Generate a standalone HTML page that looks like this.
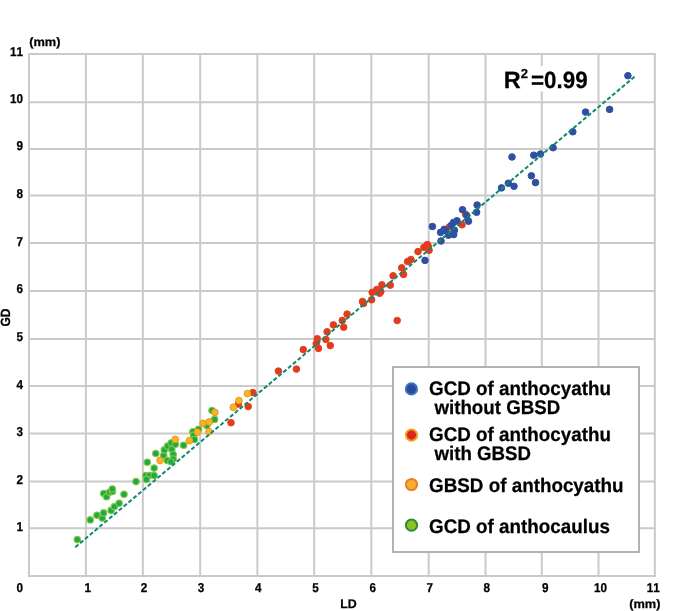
<!DOCTYPE html>
<html><head><meta charset="utf-8"><title>GD vs LD</title><style>html,body{margin:0;padding:0;background:#fff;width:685px;height:611px;overflow:hidden}svg{display:block;will-change:transform}.t text{font-family:"Liberation Sans",sans-serif;font-weight:bold;fill:#000;stroke:#000;stroke-width:0.25px;font-kerning:none;letter-spacing:0;text-rendering:geometricPrecision}</style></head><body>
<svg width="685" height="611" viewBox="0 0 685 611">
<rect x="0" y="0" width="685" height="611" fill="#fff"/>
<g stroke="#cacaca" stroke-width="2" fill="none">
<line x1="85.9" y1="54.0" x2="85.9" y2="576.0"/><line x1="142.85" y1="54.0" x2="142.85" y2="576.0"/><line x1="200.2" y1="54.0" x2="200.2" y2="576.0"/><line x1="257.4" y1="54.0" x2="257.4" y2="576.0"/><line x1="314.2" y1="54.0" x2="314.2" y2="576.0"/><line x1="371.3" y1="54.0" x2="371.3" y2="576.0"/><line x1="428.7" y1="54.0" x2="428.7" y2="576.0"/><line x1="485.5" y1="54.0" x2="485.5" y2="576.0"/><line x1="541.75" y1="54.0" x2="541.75" y2="576.0"/><line x1="598.5" y1="54.0" x2="598.5" y2="576.0"/><line x1="29.0" y1="528.2" x2="654.85" y2="528.2"/><line x1="29.0" y1="481.4" x2="654.85" y2="481.4"/><line x1="29.0" y1="433.5" x2="654.85" y2="433.5"/><line x1="29.0" y1="385.9" x2="654.85" y2="385.9"/><line x1="29.0" y1="339.05" x2="654.85" y2="339.05"/><line x1="29.0" y1="291.05" x2="654.85" y2="291.05"/><line x1="29.0" y1="242.9" x2="654.85" y2="242.9"/><line x1="29.0" y1="195.55" x2="654.85" y2="195.55"/><line x1="29.0" y1="149.05" x2="654.85" y2="149.05"/><line x1="29.0" y1="102.2" x2="654.85" y2="102.2"/>
<rect x="29.0" y="54.0" width="625.85" height="522.00"/>
</g>
<rect x="500" y="66" width="92" height="25.4" fill="#fff"/>
<g fill="#1aab4b" stroke="#8dc63f" stroke-width="1.15"><circle cx="77.3" cy="539.6" r="3.22"/><circle cx="90.2" cy="519.9" r="3.22"/><circle cx="97.0" cy="515.2" r="3.22"/><circle cx="102.3" cy="518.1" r="3.22"/><circle cx="103.6" cy="512.9" r="3.22"/><circle cx="111.1" cy="510.4" r="3.22"/><circle cx="114.4" cy="506.6" r="3.22"/><circle cx="119.1" cy="503.3" r="3.22"/><circle cx="103.7" cy="493.5" r="3.22"/><circle cx="106.6" cy="496.8" r="3.22"/><circle cx="109.5" cy="492.3" r="3.22"/><circle cx="112.5" cy="491.5" r="3.22"/><circle cx="112.3" cy="489.0" r="3.22"/><circle cx="124.0" cy="494.3" r="3.22"/><circle cx="136.0" cy="481.6" r="3.22"/><circle cx="145.9" cy="475.5" r="3.22"/><circle cx="149.5" cy="475.5" r="3.22"/><circle cx="154.1" cy="475.5" r="3.22"/><circle cx="146.4" cy="479.5" r="3.22"/><circle cx="154.1" cy="468.1" r="3.22"/><circle cx="147.3" cy="462.2" r="3.22"/><circle cx="155.8" cy="453.5" r="3.22"/><circle cx="163.7" cy="455.4" r="3.22"/><circle cx="164.3" cy="449.9" r="3.22"/><circle cx="167.6" cy="446.0" r="3.22"/><circle cx="171.2" cy="443.0" r="3.22"/><circle cx="171.8" cy="449.5" r="3.22"/><circle cx="173.2" cy="454.5" r="3.22"/><circle cx="167.3" cy="460.4" r="3.22"/><circle cx="173.2" cy="459.0" r="3.22"/><circle cx="170.9" cy="461.7" r="3.22"/><circle cx="175.4" cy="444.3" r="3.22"/><circle cx="183.6" cy="445.3" r="3.22"/><circle cx="192.9" cy="431.7" r="3.22"/><circle cx="193.7" cy="435.4" r="3.22"/><circle cx="194.5" cy="439.5" r="3.22"/><circle cx="198.6" cy="429.2" r="3.22"/><circle cx="206.8" cy="425.5" r="3.22"/><circle cx="212.0" cy="410.5" r="3.22"/><circle cx="214.6" cy="419.4" r="3.22"/></g>
<g fill="#e23b1f" stroke="#e3401f" stroke-width="1.0"><circle cx="231.0" cy="422.7" r="3.3"/><circle cx="238.4" cy="404.1" r="3.3"/><circle cx="248.2" cy="406.5" r="3.3"/><circle cx="252.9" cy="392.6" r="3.3"/><circle cx="278.4" cy="371.1" r="3.3"/><circle cx="296.4" cy="369.1" r="3.3"/><circle cx="303.3" cy="349.6" r="3.3"/><circle cx="317.3" cy="338.7" r="3.3"/><circle cx="316.2" cy="343.8" r="3.3"/><circle cx="318.5" cy="348.4" r="3.3"/><circle cx="325.9" cy="339.5" r="3.3"/><circle cx="327.1" cy="331.8" r="3.3"/><circle cx="330.3" cy="345.6" r="3.3"/><circle cx="333.4" cy="324.9" r="3.3"/><circle cx="342.3" cy="320.4" r="3.3"/><circle cx="343.7" cy="327.2" r="3.3"/><circle cx="347.1" cy="314.1" r="3.3"/><circle cx="362.5" cy="301.5" r="3.3"/><circle cx="363.5" cy="303.5" r="3.3"/><circle cx="371.6" cy="299.8" r="3.3"/><circle cx="372.2" cy="292.4" r="3.3"/><circle cx="376.8" cy="289.5" r="3.3"/><circle cx="379.6" cy="293.3" r="3.3"/><circle cx="380.8" cy="291.8" r="3.3"/><circle cx="381.9" cy="284.9" r="3.3"/><circle cx="390.3" cy="285.2" r="3.3"/><circle cx="393.1" cy="275.8" r="3.3"/><circle cx="397.2" cy="320.5" r="3.3"/><circle cx="401.7" cy="267.8" r="3.3"/><circle cx="403.5" cy="274.4" r="3.3"/><circle cx="407.6" cy="261.5" r="3.3"/><circle cx="411.0" cy="259.5" r="3.3"/><circle cx="418.0" cy="251.6" r="3.3"/><circle cx="423.9" cy="247.4" r="3.3"/><circle cx="427.3" cy="244.5" r="3.3"/><circle cx="428.5" cy="246.8" r="3.3"/><circle cx="429.1" cy="250.3" r="3.3"/><circle cx="449.2" cy="227.0" r="3.3"/><circle cx="462.0" cy="224.8" r="3.3"/><circle cx="465.6" cy="214.3" r="3.3"/></g>
<g fill="#f4b91c" stroke="#ee8a24" stroke-width="0.9"><circle cx="160.1" cy="460.4" r="3.35"/><circle cx="175.2" cy="439.4" r="3.35"/><circle cx="189.4" cy="440.7" r="3.35"/><circle cx="197.4" cy="432.1" r="3.35"/><circle cx="203.1" cy="423.3" r="3.35"/><circle cx="209.3" cy="421.9" r="3.35"/><circle cx="209.0" cy="431.6" r="3.35"/><circle cx="214.9" cy="412.4" r="3.35"/><circle cx="233.3" cy="407.3" r="3.35"/><circle cx="238.9" cy="400.6" r="3.35"/><circle cx="247.4" cy="393.6" r="3.35"/></g>
<g fill="#2f4fa0" stroke="#3350a2" stroke-width="1.0"><circle cx="425.0" cy="260.4" r="3.3"/><circle cx="445.5" cy="230.6" r="3.3"/><circle cx="451.4" cy="225.3" r="3.3"/><circle cx="432.4" cy="226.5" r="3.3"/><circle cx="441.0" cy="241.0" r="3.3"/><circle cx="440.6" cy="232.4" r="3.3"/><circle cx="444.2" cy="229.3" r="3.3"/><circle cx="448.4" cy="235.2" r="3.3"/><circle cx="453.7" cy="234.6" r="3.3"/><circle cx="454.4" cy="230.3" r="3.3"/><circle cx="453.5" cy="222.5" r="3.3"/><circle cx="457.0" cy="220.8" r="3.3"/><circle cx="462.5" cy="209.7" r="3.3"/><circle cx="466.8" cy="215.6" r="3.3"/><circle cx="468.5" cy="221.2" r="3.3"/><circle cx="476.6" cy="212.3" r="3.3"/><circle cx="477.1" cy="205.0" r="3.3"/><circle cx="501.5" cy="187.9" r="3.3"/><circle cx="508.3" cy="183.2" r="3.3"/><circle cx="514.0" cy="186.3" r="3.3"/><circle cx="512.0" cy="157.0" r="3.3"/><circle cx="533.8" cy="155.2" r="3.3"/><circle cx="540.5" cy="154.0" r="3.3"/><circle cx="553.1" cy="147.7" r="3.3"/><circle cx="531.4" cy="175.8" r="3.3"/><circle cx="535.5" cy="182.6" r="3.3"/><circle cx="572.8" cy="131.8" r="3.3"/><circle cx="585.6" cy="112.1" r="3.3"/><circle cx="609.6" cy="109.4" r="3.3"/><circle cx="627.9" cy="75.7" r="3.3"/></g>
<line x1="75.3" y1="547.2" x2="635.4" y2="76.0" stroke="#0e8a6c" stroke-width="2" stroke-dasharray="4.1 2.22"/>
<g class="t"><text transform="translate(503.73,87.90)" font-size="23.5">R</text>
<text transform="translate(520.75,78.30)" font-size="13.0">2</text>
<text transform="translate(531.07,88.00) scale(0.9500,1)" font-size="23.5">=0.99</text>
<text transform="translate(29.16,45.80) scale(1.0500,1)" font-size="12.2">(mm)</text>
<text transform="translate(16.62,531.10) scale(0.9100,1)" font-size="12.9">1</text>
<text transform="translate(16.62,484.10) scale(0.9100,1)" font-size="12.9">2</text>
<text transform="translate(16.62,436.20) scale(0.9100,1)" font-size="12.9">3</text>
<text transform="translate(16.62,389.00) scale(0.9100,1)" font-size="12.9">4</text>
<text transform="translate(16.62,341.30) scale(0.9100,1)" font-size="12.9">5</text>
<text transform="translate(16.62,293.30) scale(0.9100,1)" font-size="12.9">6</text>
<text transform="translate(16.62,246.20) scale(0.9100,1)" font-size="12.9">7</text>
<text transform="translate(16.62,197.70) scale(0.9100,1)" font-size="12.9">8</text>
<text transform="translate(16.62,150.40) scale(0.9100,1)" font-size="12.9">9</text>
<text transform="translate(10.09,103.00) scale(0.9100,1)" font-size="12.9">10</text>
<text transform="translate(10.09,55.60) scale(0.9100,1)" font-size="12.9">11</text>
<text transform="translate(16.54,591.50) scale(0.9100,1)" font-size="12.9">0</text>
<text transform="translate(84.57,591.50) scale(0.9100,1)" font-size="12.9">1</text>
<text transform="translate(140.77,591.50) scale(0.9100,1)" font-size="12.9">2</text>
<text transform="translate(197.81,591.50) scale(0.9100,1)" font-size="12.9">3</text>
<text transform="translate(254.98,591.50) scale(0.9100,1)" font-size="12.9">4</text>
<text transform="translate(312.22,591.50) scale(0.9100,1)" font-size="12.9">5</text>
<text transform="translate(369.43,591.50) scale(0.9100,1)" font-size="12.9">6</text>
<text transform="translate(426.44,591.50) scale(0.9100,1)" font-size="12.9">7</text>
<text transform="translate(483.43,591.50) scale(0.9100,1)" font-size="12.9">8</text>
<text transform="translate(541.95,591.50) scale(0.9100,1)" font-size="12.9">9</text>
<text transform="translate(593.91,591.50) scale(0.9100,1)" font-size="12.9">10</text>
<text transform="translate(646.66,591.50) scale(0.9100,1)" font-size="12.9">11</text>
<text transform="translate(340.18,607.60)" font-size="12.4">LD</text>
<text transform="translate(629.16,608.10) scale(1.0500,1)" font-size="12.2">(mm)</text></g>
<g class="t" transform="translate(9.7,317.55) rotate(-90)"><text transform="translate(-9.04,0.00) scale(0.9000,1)" font-size="13.4">GD</text></g>
<rect x="393" y="367" width="246" height="185" fill="#fff" stroke="#b3b3b3" stroke-width="2"/>
<circle cx="411.4" cy="388.9" r="5.6" fill="#2b4a9e" stroke="#3d72c2" stroke-width="2"/><circle cx="411.5" cy="435.1" r="5.6" fill="#d9261f" stroke="#f0a01e" stroke-width="2"/><circle cx="411.5" cy="484.5" r="5.6" fill="#f4b02c" stroke="#ee7d22" stroke-width="2"/><circle cx="411.5" cy="525.2" r="5.6" fill="#8dc21f" stroke="#2b8a3e" stroke-width="2"/>
<g class="t"><text transform="translate(429.03,395.10) scale(0.9601,1)" font-size="19.6">GCD of anthocyathu</text>
<text transform="translate(434.45,413.60) scale(0.9552,1)" font-size="19.6">without GBSD</text>
<text transform="translate(429.03,441.20) scale(0.9601,1)" font-size="19.6">GCD of anthocyathu</text>
<text transform="translate(434.45,459.60) scale(0.9533,1)" font-size="19.6">with GBSD</text>
<text transform="translate(429.03,491.90) scale(0.9609,1)" font-size="19.6">GBSD of anthocyathu</text>
<text transform="translate(429.03,533.40) scale(0.9603,1)" font-size="19.6">GCD of anthocaulus</text></g>
</svg>
</body></html>
